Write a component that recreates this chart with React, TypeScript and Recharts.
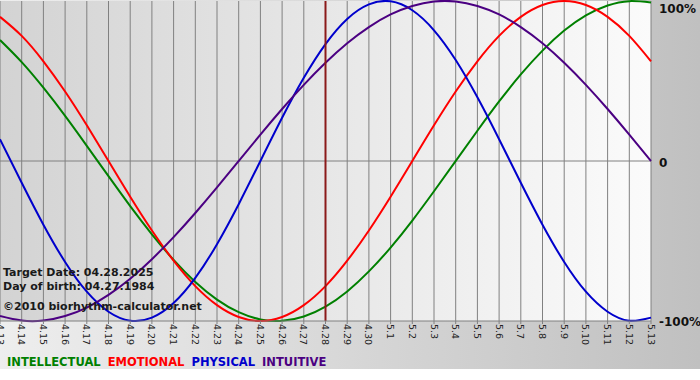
import React from 'react';
import { LineChart, Line, XAxis, YAxis, CartesianGrid, ReferenceLine } from 'recharts';

// day labels, 4.13 -> 5.13
const dates = [
  '4.13', '4.14', '4.15', '4.16', '4.17', '4.18', '4.19', '4.20', '4.21', '4.22',
  '4.23', '4.24', '4.25', '4.26', '4.27', '4.28', '4.29', '4.30', '5.1', '5.2',
  '5.3', '5.4', '5.5', '5.6', '5.7', '5.8', '5.9', '5.10', '5.11', '5.12', '5.13',
];

// values in percent
const intellectual = [
  75.6, 61.8, 45.8, 28.2, 9.5, -9.5, -28.2, -45.8, -61.8, -75.6, -86.6, -94.5, -99.0, -99.9, -97.2, -91.0,
  -81.5, -69.0, -54.1, -37.2, -18.9, 0, 18.9, 37.2, 54.1, 69.0, 81.5, 91.0, 97.2, 99.9, 99.0,
];
const emotional = [
  90.1, 78.2, 62.3, 43.4, 22.3, 0, -22.3, -43.4, -62.3, -78.2, -90.1, -97.5, -100, -97.5, -90.1, -78.2,
  -62.3, -43.4, -22.3, 0, 22.3, 43.4, 62.3, 78.2, 90.1, 97.5, 100, 97.5, 90.1, 78.2, 62.3,
];
const physical = [
  13.6, -13.6, -39.8, -63.1, -81.7, -94.2, -99.8, -97.9, -88.8, -73.1, -52.0, -27.0, 0, 27.0, 52.0, 73.1,
  88.8, 97.9, 99.8, 94.2, 81.7, 63.1, 39.8, 13.6, -13.6, -39.8, -63.1, -81.7, -94.2, -99.8, -97.9,
];
const intuitive = [
  -96.9, -99.7, -99.7, -96.9, -91.6, -83.7, -73.6, -61.4, -47.6, -32.5, -16.5, 0, 16.5, 32.5, 47.6, 61.4,
  73.6, 83.7, 91.6, 96.9, 99.7, 99.7, 96.9, 91.6, 83.7, 73.6, 61.4, 47.6, 32.5, 16.5, 0,
];

const yTicks = [100, 0, -100];
const yTickLabels = ['100%', '0', '-100%'];

const targetDay = '4.28';
const infoLines = ['Target Date: 04.28.2025', 'Day of birth: 04.27.1984'];
const creditLine = '\u00a92010 biorhythm-calculator.net';

const series = [
  { key: 'intellectual', name: 'INTELLECTUAL', color: '#008000' },
  { key: 'emotional', name: 'EMOTIONAL', color: '#ff0000' },
  { key: 'physical', name: 'PHYSICAL', color: '#0000cc' },
  { key: 'intuitive', name: 'INTUITIVE', color: '#4b0082' },
];

const data = dates.map((d, i) => ({
  date: d,
  intellectual: intellectual[i],
  emotional: emotional[i],
  physical: physical[i],
  intuitive: intuitive[i],
}));

const FONT = '"DejaVu Sans", Verdana, sans-serif';

const XTick = (props: any) => {
  const { x, y, payload } = props;
  return (
    <text
      x={x}
      y={y}
      transform={`rotate(90 ${x} ${y})`}
      textAnchor="start"
      dominantBaseline="central"
      fontSize={9.5}
      fontFamily={FONT}
      fill="#222"
    >
      {payload.value}
    </text>
  );
};

const YTick = (props: any) => {
  const { x, y, payload } = props;
  const i = yTicks.indexOf(payload.value);
  const dy = payload.value === 100 ? 8 : payload.value === -100 ? 1 : 2;
  return (
    <text
      x={x}
      y={y + dy}
      textAnchor="start"
      dominantBaseline="central"
      fontSize={12}
      fontWeight="bold"
      fontFamily={FONT}
      fill="#111"
    >
      {yTickLabels[i]}
    </text>
  );
};

export default function App() {
  return (
    <div
      style={{
        position: 'absolute',
        left: 0,
        top: 0,
        width: 700,
        height: 380,
        background:
          'linear-gradient(to bottom, rgba(255,255,255,0) 369px, #ffffff 369px), linear-gradient(to right, #eeeeee, #c0c0c0)',
        fontFamily: FONT,
      }}
    >
      <LineChart width={700} height={380} data={data} margin={{ top: 1, right: 0, bottom: 0, left: 0 }}>
        <defs>
          <linearGradient id="plotBg" x1="0" y1="0" x2="1" y2="0">
            <stop offset="0%" stopColor="#d3d3d3" />
            <stop offset="100%" stopColor="#fbfbfb" />
          </linearGradient>
        </defs>
        <CartesianGrid horizontal={false} stroke="#808080" fill="url(#plotBg)" fillOpacity={1} />
        <XAxis
          dataKey="date"
          interval={0}
          height={59}
          tick={<XTick />}
          tickSize={3}
          tickMargin={0}
          tickLine={{ stroke: '#808080' }}
          axisLine={{ stroke: '#808080' }}
        />
        <YAxis
          orientation="right"
          width={49}
          domain={[-100, 100]}
          ticks={yTicks}
          interval={0}
          tick={<YTick />}
          tickLine={false}
          axisLine={false}
        />
        <ReferenceLine y={0} stroke="#808080" />
        {series.map((s) => (
          <Line
            key={s.key}
            type="natural"
            dataKey={s.key}
            stroke={s.color}
            strokeWidth={2}
            dot={false}
            isAnimationActive={false}
          />
        ))}
        <ReferenceLine x={targetDay} stroke="#8b1a1a" strokeWidth={2} />
      </LineChart>

      {infoLines.map((t, i) => (
        <div
          key={t}
          style={{
            position: 'absolute',
            left: 3,
            top: 266 + i * 14,
            fontSize: 11,
            fontWeight: 'bold',
            color: '#1a1a1a',
            whiteSpace: 'nowrap',
            lineHeight: '14px',
          }}
        >
          {t}
        </div>
      ))}
      <div
        style={{
          position: 'absolute',
          left: 3,
          top: 300,
          fontSize: 11,
          fontWeight: 'bold',
          color: '#1a1a1a',
          whiteSpace: 'nowrap',
          lineHeight: '14px',
        }}
      >
        {creditLine}
      </div>

      <div
        style={{
          position: 'absolute',
          left: 7,
          top: 354,
          fontSize: 11.5,
          fontWeight: 'bold',
          whiteSpace: 'nowrap',
          lineHeight: '16px',
        }}
      >
        {series.map((s, i) => (
          <span key={s.key} style={{ color: s.color, marginRight: i < series.length - 1 ? 7 : 0 }}>
            {s.name}
          </span>
        ))}
      </div>
    </div>
  );
}
